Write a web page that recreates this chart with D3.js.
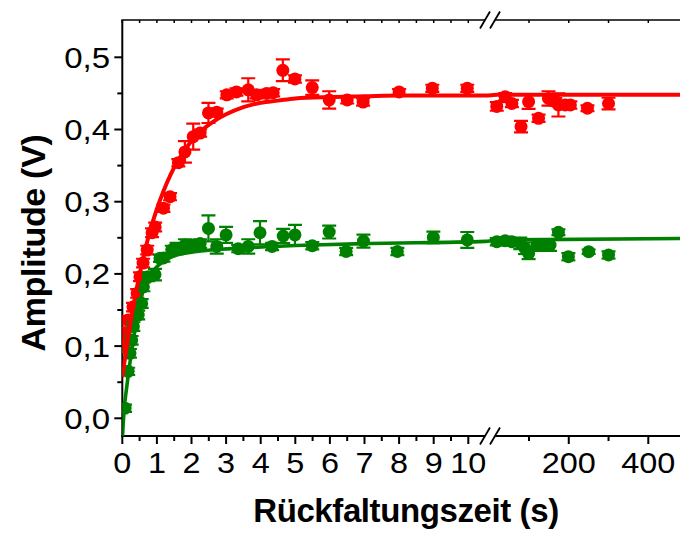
<!DOCTYPE html>
<html><head><meta charset="utf-8">
<script src="https://cdn.jsdelivr.net/npm/d3@7"></script>
<style>body{margin:0;background:#fff}svg{display:block}</style>
</head><body>
<svg id="c" width="680" height="533"></svg>
<script>
// ---------- data ----------
const redT = [0.03,0.08,0.17,0.31,0.43,0.51,0.6,0.72,0.86,0.95,1.19,1.38,1.62,1.81,2.05,2.25,2.49,2.73,3.02,3.3,3.64,3.88,4.17,4.36,4.64,4.99,5.49,5.98,6.5,6.96,8.0,8.96,9.97,19,40,57,80,99,124,149,166,174,191,204,247,300];
const redV = [0.099,0.118,0.136,0.154,0.173,0.196,0.215,0.233,0.257,0.265,0.291,0.307,0.354,0.369,0.390,0.395,0.423,0.424,0.448,0.452,0.455,0.448,0.450,0.451,0.482,0.470,0.458,0.441,0.441,0.438,0.452,0.457,0.457,0.432,0.4455,0.436,0.404,0.4385,0.4155,0.443,0.4385,0.434,0.434,0.434,0.4294,0.436];
const redE = [0.008,0.008,0.006,0.006,0.006,0.006,0.006,0.006,0.006,0.006,0.005,0.005,0.005,0.015,0.018,0.005,0.014,0.005,0.005,0.005,0.016,0.005,0.005,0.005,0.015,0.005,0.010,0.012,0.005,0.005,0.004,0.005,0.005,0.006,0.005,0.005,0.008,0.010,0.005,0.010,0.005,0.016,0.005,0.005,0.004,0.008];

const greenT = [0.08,0.17,0.22,0.27,0.32,0.46,0.56,0.61,0.75,0.945,1.09,1.19,1.43,1.57,1.81,2.05,2.25,2.49,2.73,3.0,3.35,3.64,3.98,4.33,4.65,4.99,5.49,5.98,6.47,6.97,7.95,8.99,9.97,19,40,57,78,90,99,120,141,153,174,199,250,300];
const greenV = [0.014,0.065,0.090,0.108,0.127,0.143,0.159,0.182,0.196,0.199,0.2216,0.222,0.233,0.235,0.240,0.240,0.242,0.263,0.238,0.254,0.235,0.238,0.257,0.238,0.2525,0.254,0.239,0.258,0.231,0.2455,0.231,0.2505,0.247,0.2446,0.246,0.2446,0.2424,0.2355,0.2285,0.240,0.240,0.240,0.2576,0.2238,0.2308,0.2262];
const greenE = [0.005,0.005,0.006,0.006,0.006,0.006,0.006,0.006,0.006,0.008,0.005,0.005,0.006,0.008,0.008,0.006,0.006,0.018,0.010,0.011,0.005,0.010,0.016,0.005,0.010,0.014,0.005,0.009,0.005,0.009,0.005,0.008,0.011,0.005,0.005,0.005,0.008,0.008,0.008,0.008,0.008,0.008,0.004,0.005,0.003,0.005];

// fit curves
const redFitT = [0,0.1,0.2,0.3,0.4,0.5,0.6,0.8,1.0,1.2,1.4,1.6,1.8,2.0,2.3,2.6,3.0,3.5,4.0,4.5,5.0,6.0,7.0,8.0,10.5,18,480];
const redFitV = [0.057,0.091,0.122,0.150,0.176,0.199,0.221,0.259,0.290,0.316,0.338,0.356,0.371,0.384,0.399,0.410,0.421,0.431,0.437,0.440,0.443,0.445,0.446,0.447,0.447,0.448,0.448];
const greenFitT = [0,0.05,0.13,0.2,0.32,0.45,0.61,0.75,0.9,1.2,1.57,2.0,2.53,3.5,5.5,7,10.5,18,480];
const greenFitV = [-0.03,0.01,0.044,0.07,0.108,0.148,0.178,0.195,0.205,0.218,0.226,0.230,0.233,0.236,0.240,0.242,0.245,0.247,0.249];

const xTicksLeft = [0,1,2,3,4,5,6,7,8,9,10];
const xMinorLeft = [0.5,1.5,2.5,3.5,4.5,5.5,6.5,7.5,8.5,9.5];
const xTicksRight = [200,400];
const xMinorRight = [100,300];
const yTicks = [0,0.1,0.2,0.3,0.4,0.5];
const yMinor = [0.05,0.15,0.25,0.35,0.45];

// ---------- layout ----------
const L = 122.3, T = 20, B = 436, R = 680;
const breakL = 10.5;
const xL = d3.scaleLinear().domain([0,10]).range([L,468.3]);
const xR = d3.scaleLinear().domain([100,400]).range([529,648.3]);
const X = t => t <= breakL ? xL(t) : xR(t);
const y = d3.scaleLinear().domain([0,0.5]).range([418.3,57.3]);

const svg = d3.select("#c");
svg.append("defs").append("clipPath").attr("id","clip")
  .append("rect").attr("x",L).attr("y",T).attr("width",R-L).attr("height",B-T);

const FONT = "Arial, 'Liberation Sans', sans-serif";
const red = "#ff0000", green = "#008000";

// ---------- axes ----------
const ax = svg.append("g").attr("stroke","#000").attr("fill","none");
// left axis line
ax.append("line").attr("x1",L).attr("x2",L).attr("y1",T).attr("y2",B).attr("stroke-width",2);
// bottom & top with break gap
const gapA = 485, gapB = 495;
[[B,2],[T,1.6]].forEach(([yy,w])=>{
  ax.append("line").attr("x1",L-1).attr("x2",gapA).attr("y1",yy).attr("y2",yy).attr("stroke-width",w);
  ax.append("line").attr("x1",gapB).attr("x2",R).attr("y1",yy).attr("y2",yy).attr("stroke-width",w);
  [gapA,gapB].forEach(cx=>{
    ax.append("line").attr("x1",cx-5).attr("y1",yy+8.5).attr("x2",cx+5).attr("y2",yy-8.5).attr("stroke-width",1.8);
  });
});
// y ticks
yTicks.forEach(v=>ax.append("line").attr("x1",L-8).attr("x2",L).attr("y1",y(v)).attr("y2",y(v)).attr("stroke-width",2));
yMinor.forEach(v=>ax.append("line").attr("x1",L-5).attr("x2",L).attr("y1",y(v)).attr("y2",y(v)).attr("stroke-width",2));
// x ticks bottom (outward) and top (inward)
const majX = xTicksLeft.map(xL).concat(xTicksRight.map(xR));
const minX = xMinorLeft.map(xL).concat(xMinorRight.map(xR));
majX.forEach(px=>{
  ax.append("line").attr("x1",px).attr("x2",px).attr("y1",B).attr("y2",B+8).attr("stroke-width",2);
  ax.append("line").attr("x1",px).attr("x2",px).attr("y1",T).attr("y2",T+3).attr("stroke-width",1.5);
});
minX.forEach(px=>{
  ax.append("line").attr("x1",px).attr("x2",px).attr("y1",B).attr("y2",B+5).attr("stroke-width",2);
  ax.append("line").attr("x1",px).attr("x2",px).attr("y1",T).attr("y2",T+3).attr("stroke-width",1.5);
});

// tick labels
const lab = svg.append("g").attr("font-family",FONT).attr("font-size",30).attr("fill","#000");
const fmtY = v => d3.format(".1f")(v).replace(".",",");
yTicks.forEach(v=>{
  lab.append("text").attr("transform",`translate(110,${y(v)+10.5}) scale(1.1,1)`)
    .attr("text-anchor","end").text(fmtY(v));
});
xTicksLeft.forEach(v=>{
  lab.append("text").attr("transform",`translate(${xL(v)},473) scale(1.08,1)`)
    .attr("text-anchor","middle").text(v);
});
xTicksRight.forEach(v=>{
  lab.append("text").attr("transform",`translate(${xR(v)},473) scale(1.08,1)`)
    .attr("text-anchor","middle").text(v);
});

// axis titles
svg.append("text").attr("x",406).attr("y",522).attr("text-anchor","middle")
  .attr("font-family",FONT).attr("font-weight","bold").attr("font-size",33)
  .attr("letter-spacing",-0.4).text("Rückfaltungszeit (s)");
svg.append("text").attr("transform","translate(45,243) rotate(-90)").attr("text-anchor","middle")
  .attr("font-family",FONT).attr("font-weight","bold").attr("font-size",34)
  .attr("letter-spacing",-0.3).text("Amplitude (V)");

// ---------- data marks ----------
const plot = svg.append("g").attr("clip-path","url(#clip)");
function drawSeries(ts, vs, es, col){
  const g = plot.append("g");
  const data = ts.map((t,i)=>({t, v:vs[i], e:es[i]}));
  const eb = g.selectAll("g.eb").data(data).enter().append("g").attr("stroke",col).attr("stroke-width",2.2);
  eb.append("line").attr("x1",d=>X(d.t)).attr("x2",d=>X(d.t)).attr("y1",d=>y(d.v-d.e)).attr("y2",d=>y(d.v+d.e));
  eb.append("line").attr("x1",d=>X(d.t)-7).attr("x2",d=>X(d.t)+7).attr("y1",d=>y(d.v+d.e)).attr("y2",d=>y(d.v+d.e));
  eb.append("line").attr("x1",d=>X(d.t)-7).attr("x2",d=>X(d.t)+7).attr("y1",d=>y(d.v-d.e)).attr("y2",d=>y(d.v-d.e));
  g.selectAll("circle").data(data).enter().append("circle")
    .attr("cx",d=>X(d.t)).attr("cy",d=>y(d.v)).attr("r",6.5).attr("fill",col);
}
drawSeries(redT, redV, redE, red);
drawSeries(greenT, greenV, greenE, green);

const line = d3.line().x(d=>X(d[0])).y(d=>y(d[1])).curve(d3.curveMonotoneX);
plot.append("path").attr("d",line(redFitT.map((t,i)=>[t,redFitV[i]])))
  .attr("fill","none").attr("stroke",red).attr("stroke-width",4);
plot.append("path").attr("d",line(greenFitT.map((t,i)=>[t,greenFitV[i]])))
  .attr("fill","none").attr("stroke",green).attr("stroke-width",3.6);
</script>
</body></html>
